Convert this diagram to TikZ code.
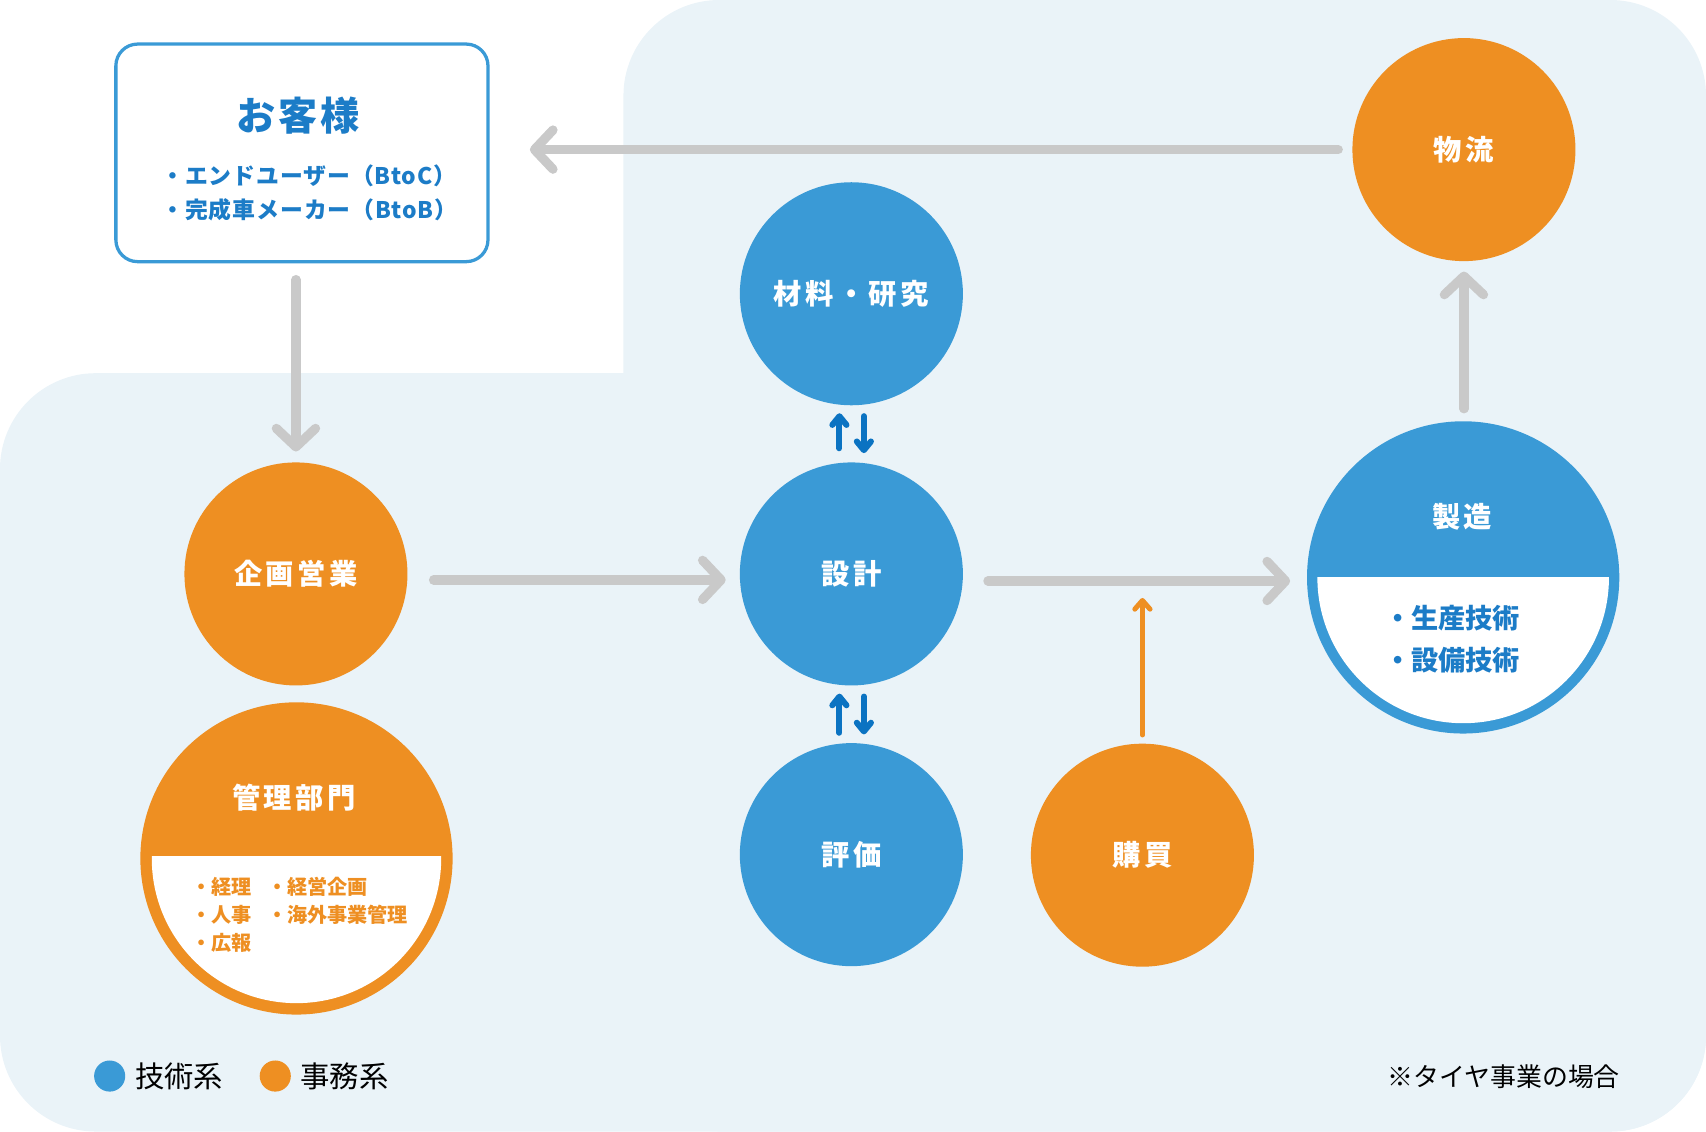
\documentclass[tikz,border=0pt]{standalone}
\usepackage{fontspec}
\setmainfont{Noto Sans CJK JP}
\newfontfamily\jpsp{Noto Sans CJK JP}[LetterSpace=12]
\newfontfamily\jpkit{Noto Sans CJK JP}[LetterSpace=4]
\newfontfamily\jptit{Noto Sans CJK JP}[LetterSpace=8]
\usetikzlibrary{arrows.meta,calc}
\definecolor{bgblue}{HTML}{EAF3F8}
\definecolor{cblue}{HTML}{3A9AD6}
\definecolor{corange}{HTML}{EE8F22}
\definecolor{tblue}{HTML}{1C7CC7}
\definecolor{dblue}{HTML}{0B73C2}
\definecolor{agray}{HTML}{C9C9C9}
\begin{document}
\begin{tikzpicture}[x=1pt,y=-1pt,
  circ/.style={circle, inner sep=0pt, outer sep=0pt, minimum size=205pt},
  bigcirc/.style={circle, inner sep=0pt, outer sep=0pt, minimum size=287pt},
  lab/.style={text=white, font=\jpsp\bfseries\fontsize{26}{30}\selectfont},
  item/.style={anchor=west, inner sep=0pt, font=\bfseries\fontsize{18.5}{22}\selectfont, text=corange},
  bitem/.style={anchor=west, inner sep=0pt, font=\bfseries\fontsize{25}{30}\selectfont, text=tblue},
  kitem/.style={anchor=west, inner sep=0pt, font=\jpkit\bfseries\fontsize{21}{24}\selectfont, text=tblue},
  legtext/.style={anchor=west, inner sep=0pt, font=\fontsize{27}{32}\selectfont, text=black},
  garrow/.style={draw=agray, line width=8.5pt, line cap=round, -{Straight Barb[length=17pt,width=36pt,round]}},
  barrow/.style={draw=dblue, line width=5.5pt, line cap=round, -{Straight Barb[length=8pt,width=13pt,round]}},
  oarrow/.style={draw=corange, line width=4.6pt, line cap=round, -{Straight Barb[length=8pt,width=14pt,round]}}
]
\useasboundingbox (0,0) rectangle (1568,1040);
% background
\fill[bgblue, rounded corners=88pt] (573,0) rectangle (1568,1040);
\fill[bgblue, rounded corners=88pt] (0,343) rectangle (1568,1040);

% customer box
\node[draw=cblue, line width=3pt, rounded corners=20pt, fill=white, minimum width=342pt, minimum height=200pt, inner sep=0pt] (kyaku) at (277.5,140.5) {};
\node[font=\jptit\bfseries\fontsize{36}{40}\selectfont, text=tblue, inner sep=0pt] (kyakut) at (274,106) {お客様};
\node[kitem] (k1) at (148.2,162) {・エンドユーザー（BtoC）};
\node[kitem] (k2) at (148.2,193) {・完成車メーカー（BtoB）};

% circles
\node[circ, fill=corange, lab] (butsuryu) at (1345.5,137.5) {物流};
\node[circ, fill=cblue, lab] (zairyo) at (782.5,270) {材料・研究};
\node[circ, fill=cblue, lab] (sekkei) at (782.5,527.5) {設計};
\node[circ, fill=cblue, lab] (hyouka) at (782.5,785.5) {評価};
\node[circ, fill=corange, lab] (koubai) at (1050,786) {購買};
\node[circ, fill=corange, lab] (kikaku) at (272,527.5) {企画営業};

% kanri
\node[bigcirc, fill=corange] (kanri) at (272.5,789) {};
\begin{scope}
\clip (122,787.5) rectangle (424,940);
\fill[white] (kanri.center) circle[radius=133];
\end{scope}
\node[lab] (kanrit) at (270,733.5) {管理部門};
\node[item] (i1) at (175.8,815) {・経理};
\node[item] (i2) at (175.8,841) {・人事};
\node[item] (i3) at (175.8,866.5) {・広報};
\node[item] (i4) at (245.3,815) {・経営企画};
\node[item] (i5) at (245.3,841) {・海外事業管理};

% seizo
\node[bigcirc, fill=cblue] (seizo) at (1344.8,530.7) {};
\begin{scope}
\clip (1195,531) rectangle (1495,680);
\fill[white] (seizo.center) circle[radius=134];
\end{scope}
\node[lab] (seizot) at (1344,475) {製造};
\node[bitem] (s1) at (1272,568) {・生産技術};
\node[bitem] (s2) at (1272,606.5) {・設備技術};

% gray arrows
\draw[garrow, shorten <=13pt, shorten >=37pt] (butsuryu.west) -- (kyaku.east |- butsuryu.west);
\draw[garrow, shorten <=15pt, shorten >=10pt] (kyaku.south -| kikaku) -- (kikaku.north);
\coordinate (l1) at ([yshift=-5.5pt]kikaku.east);
\draw[garrow, shorten <=24pt, shorten >=13pt] (l1) -- (l1 -| sekkei.west);
\coordinate (l2) at ([yshift=-6.5pt]sekkei.east);
\draw[garrow, shorten <=23pt, shorten >=15.5pt] (l2) -- (l2 -| seizo.west);
\draw[garrow, shorten <=11.5pt, shorten >=9.6pt] (seizo.north -| butsuryu) -- (butsuryu.south);

% orange arrow
\draw[oarrow, shorten <=8pt, shorten >=15.6pt] (koubai.north) -- (koubai |- l2);

% blue arrows
\draw[barrow, shorten <=13pt, shorten >=7.3pt] ([xshift=-11pt]sekkei.north) -- ([xshift=-11pt]zairyo.south);
\draw[barrow, shorten <=10pt, shorten >=8.5pt] ([xshift=11.5pt]zairyo.south) -- ([xshift=11.5pt]sekkei.north);
\draw[barrow, shorten <=9.5pt, shorten >=7.5pt] ([xshift=-11pt]hyouka.north) -- ([xshift=-11pt]sekkei.south);
\draw[barrow, shorten <=10.2pt, shorten >=8pt] ([xshift=11.5pt]sekkei.south) -- ([xshift=11.5pt]hyouka.north);

% legend
\node[circle, fill=cblue, minimum size=28.6pt, inner sep=0pt] (lg1) at (100.8,989) {};
\node[legtext] (lt1) at (124,989) {技術系};
\node[circle, fill=corange, minimum size=28.6pt, inner sep=0pt] (lg2) at (253,989) {};
\node[legtext] (lt2) at (276,989) {事務系};
\node[anchor=east, inner sep=0pt, font=\fontsize{23.8}{28}\selectfont, text=black] (note) at (1489,989.5) {※タイヤ事業の場合};
\end{tikzpicture}
\end{document}
